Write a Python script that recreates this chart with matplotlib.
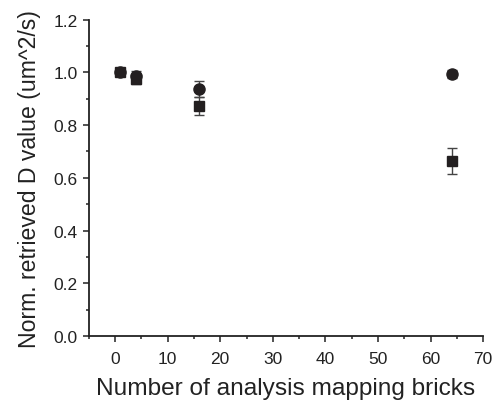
import matplotlib.pyplot as plt
from matplotlib.ticker import MultipleLocator

plt.rcParams['font.family'] = ['Liberation Sans', 'DejaVu Sans']

# number of analysis mapping bricks
bricks = [1, 4, 16, 64]
# circles
circ_val = [1.0, 0.985, 0.938, 0.993]
circ_err = [0.008, 0.02, 0.03, 0.014]
# squares
sq_val = [1.0, 0.975, 0.872, 0.665]
sq_err = [0.008, 0.02, 0.034, 0.049]

fig = plt.figure(figsize=(4.96, 4.02), dpi=100)
ax = fig.add_axes([0.179, 0.161, 0.795, 0.788])

col = '#231f20'
ax.errorbar(bricks, sq_val, yerr=sq_err, fmt='s', color=col, ms=7,
            ecolor='#444444', elinewidth=1.0, capsize=3.5, capthick=1.0)
ax.errorbar(bricks, circ_val, yerr=circ_err, fmt='o', color=col, ms=8,
            ecolor='#444444', elinewidth=1.0, capsize=3.5, capthick=1.0)

ax.set_xlim(-5, 70)
ax.set_ylim(0.0, 1.2)
ax.xaxis.set_major_locator(MultipleLocator(10))
ax.xaxis.set_minor_locator(MultipleLocator(5))
ax.yaxis.set_major_locator(MultipleLocator(0.2))
ax.yaxis.set_minor_locator(MultipleLocator(0.1))
ax.yaxis.set_major_formatter(plt.FormatStrFormatter('%.1f'))

for s in ['top', 'right']:
    ax.spines[s].set_visible(False)
for s in ['left', 'bottom']:
    ax.spines[s].set_linewidth(1.3)
    ax.spines[s].set_color('#222222')

ax.tick_params(which='major', direction='out', length=4.5, width=1.1,
               labelsize=12.5, colors='#222222')
ax.tick_params(axis='x', which='major', pad=6)
ax.tick_params(which='minor', direction='out', length=2.5, width=1.1,
               colors='#222222')

ax.set_xlabel('Number of analysis mapping bricks', fontsize=17.6,
              color='#222222', labelpad=8)
ax.set_ylabel('Norm. retrieved D value (um^2/s)', fontsize=16.6,
              color='#222222', labelpad=9)

fig.savefig('out.png', dpi=100)
plt.close()
